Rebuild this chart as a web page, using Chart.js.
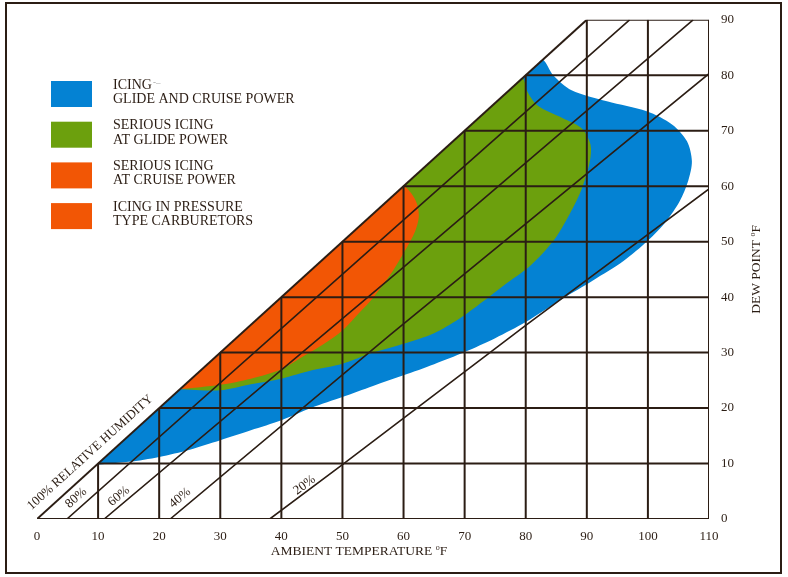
<!DOCTYPE html>
<html>
<head>
<meta charset="utf-8">
<script src="https://cdn.jsdelivr.net/npm/chart.js@4.4.1/dist/chart.umd.min.js"></script>
<style>
  html, body { margin: 0; padding: 0; background: #fff; }
  #wrap { width: 788px; height: 577px; }
</style>
</head>
<body>
<div id="wrap"><canvas id="chart" width="788" height="577"></canvas></div>
<script>
const ink = '#2b1d14';
const serif = "'Liberation Serif', 'Times New Roman', serif";

// axes
const tempTicks = [0, 10, 20, 30, 40, 50, 60, 70, 80, 90, 100, 110];
const dewTicks = [0, 10, 20, 30, 40, 50, 60, 70, 80, 90];

// relative humidity lines (ambient temp, dew point)
const rhNames = ['100% RELATIVE HUMIDITY', '80%', '60%', '40%', '20%'];
const rh100 = [[0, 0], [90, 90]];
const rh80 = [[4.9, 0], [60.2, 54.1], [97, 90]];
const rh60 = [[11, 0], [60.2, 45.6], [107.4, 90]];
const rh40 = [[21.8, 0], [57.8, 33.2], [110, 80.3]];
const rh20 = [[38.1, 0], [50, 9.8], [80, 34.9], [110, 59.5]];

// icing zones, outlines
const legendNames = [
  ['ICING', 'GLIDE AND CRUISE POWER'],
  ['SERIOUS ICING', 'AT GLIDE POWER'],
  ['SERIOUS ICING', 'AT CRUISE POWER'],
  ['ICING IN PRESSURE', 'TYPE CARBURETORS']
];
const zoneColors = ['#0482d3', '#6ca00d', '#f25605', '#f25605'];

const blueZone = [
  [9.8, 9.8], [15, 10.3], [20, 11.2], [25, 12.5], [30, 14.2], [35, 16], [40, 17.8],
  [45, 20.1], [50, 22], [55, 24], [60, 25.9], [65, 27.9], [70, 30.1], [75, 32.6],
  [80, 35.5], [86, 39.7], [91, 43], [96, 46.5], [100, 50.2], [103, 53.7], [105.2, 57.3],
  [106.6, 61], [107.2, 64.5], [106.4, 68.1], [104, 71.1], [99.8, 73.5], [93.3, 75.3],
  [87.5, 77.3], [84.5, 80], [82.8, 82.8],
  [81.5, 81.5], [70, 70], [60, 60], [50, 50], [40, 40], [30, 30], [20, 20], [11.2, 11.2], [9.8, 9.8]
];
const greenZone = [
  [23.4, 23.4], [30, 23.2], [35, 24.3], [40, 25.3], [45, 26.8], [50, 28], [55, 30],
  [60, 31.6], [65, 33.5], [69, 36], [73, 39.2], [76.5, 42.2], [80.7, 45.6], [84.5, 50.1],
  [87.2, 55], [89.2, 59.6], [90.5, 64.5], [90.6, 67.5], [89.2, 70.4], [86, 72.3],
  [82, 74.5], [80.3, 77], [79.5, 79.5],
  [78, 78], [70, 70], [60, 60], [50, 50], [40, 40], [30, 30], [24.8, 24.8], [23.4, 23.4]
];
const orangeZone = [
  [23.4, 23.4], [30, 24.2], [35, 25.3], [40, 27], [44, 29.6], [47, 31.6], [50, 34],
  [52, 36.3], [54.5, 39.2], [56.5, 42], [58.3, 44.8], [60.2, 48.3], [61.9, 51.9],
  [62.5, 54.5], [62.2, 56.8], [61.2, 58.8], [60, 60],
  [58.6, 58.6], [50, 50], [40, 40], [30, 30], [24.8, 24.8], [23.4, 23.4]
];

const pts = arr => arr.map(([x, y]) => ({ x, y }));

function zone(data, color, order) {
  return {
    data: pts(data), showLine: true, fill: 'shape', backgroundColor: color,
    borderWidth: 0, pointRadius: 0, tension: 0.3, order
  };
}

function rule(data, width) {
  return {
    data: pts(data), showLine: true, fill: false, borderColor: ink,
    borderWidth: width, pointRadius: 0, tension: 0, order: 1
  };
}

const xMax = tempTicks[tempTicks.length - 1];
const yMax = dewTicks[dewTicks.length - 1];

const datasets = [
  zone(blueZone, zoneColors[0], 10),
  zone(greenZone, zoneColors[1], 9),
  zone(orangeZone, zoneColors[2], 8)
];
// grid only inside the area under 100% humidity
dewTicks.forEach(d => datasets.push(rule([[d, d], [xMax, d]], 2)));
tempTicks.forEach(t => {
  if (t > 0) datasets.push(rule([[t, 0], [t, Math.min(t, yMax)]], 2));
});
const rhLines = [rh100, rh80, rh60, rh40, rh20];
rhLines.forEach((l, i) => datasets.push(rule(l, i === 0 ? 2 : 1.6)));

// label centres (data units) for the humidity lines
const rhLabelAt = [[8.7, 12.0], [6.4, 3.8], [13.4, 4.1], [23.4, 3.8], [43.8, 6.1]];

function textWithDegree(ctx, text, x, y, size) {
  // draws "text" followed by a raised small o and F, centred on x
  ctx.font = size + 'px ' + serif;
  const w1 = ctx.measureText(text).width;
  ctx.font = (size * 0.6) + 'px ' + serif;
  const w2 = ctx.measureText('o').width;
  ctx.font = size + 'px ' + serif;
  const w3 = ctx.measureText('F').width;
  let px = x - (w1 + w2 + w3) / 2;
  ctx.textAlign = 'left';
  ctx.textBaseline = 'alphabetic';
  ctx.fillText(text, px, y);
  px += w1;
  ctx.font = (size * 0.6) + 'px ' + serif;
  ctx.fillText('o', px, y - size * 0.38);
  px += w2;
  ctx.font = size + 'px ' + serif;
  ctx.fillText('F', px, y);
}

const decorations = {
  id: 'decorations',
  beforeDraw(chart) {
    const ctx = chart.ctx;
    ctx.save();
    ctx.fillStyle = '#fff';
    ctx.fillRect(0, 0, chart.width, chart.height);
    ctx.restore();
  },
  afterDraw(chart) {
    const ctx = chart.ctx;
    const sx = chart.scales.x, sy = chart.scales.y;
    ctx.save();
    ctx.fillStyle = ink;

    // legend
    legendNames.forEach((lines, i) => {
      const top = 81 + i * 40.7;
      ctx.fillStyle = zoneColors[i];
      ctx.fillRect(51, top, 41, 26);
      ctx.fillStyle = ink;
      ctx.font = '14px ' + serif;
      ctx.textAlign = 'left';
      ctx.textBaseline = 'alphabetic';
      ctx.fillText(lines[0], 113, top + 7.5);
      ctx.fillText(lines[1], 113, top + 21.8);
      if (i === 0) {
        const w = ctx.measureText(lines[0]).width;
        ctx.fillStyle = '#9a9a9a';
        ctx.font = '9px ' + serif;
        ctx.fillText('-\u2013', 113 + w + 1, top + 4);
        ctx.fillStyle = ink;
      }
    });

    // humidity line labels
    rhNames.forEach((name, i) => {
      const l = rhLines[i];
      const a = l[0], b = l[l.length - 1];
      const ang = Math.atan2(sy.getPixelForValue(b[1]) - sy.getPixelForValue(a[1]),
                             sx.getPixelForValue(b[0]) - sx.getPixelForValue(a[0]));
      const c = rhLabelAt[i];
      ctx.save();
      ctx.translate(sx.getPixelForValue(c[0]), sy.getPixelForValue(c[1]));
      ctx.rotate(ang);
      ctx.font = '13px ' + serif;
      ctx.textAlign = 'center';
      ctx.textBaseline = 'middle';
      ctx.fillText(name, 0, 0);
      ctx.restore();
    });

    // axis titles
    textWithDegree(ctx, 'AMBIENT TEMPERATURE ', sx.getPixelForValue(52.7), 555, 13.5);
    ctx.save();
    ctx.translate(760, (chart.chartArea.top + chart.chartArea.bottom) / 2);
    ctx.rotate(-Math.PI / 2);
    textWithDegree(ctx, 'DEW POINT ', 0, 0, 13.5);
    ctx.restore();

    // frame
    ctx.strokeStyle = ink;
    ctx.lineWidth = 2;
    ctx.strokeRect(6, 3, 775, 570);
    ctx.restore();
  }
};

new Chart(document.getElementById('chart'), {
  type: 'scatter',
  data: { datasets },
  plugins: [decorations],
  options: {
    responsive: false,
    animation: false,
    layout: { padding: { left: 37, top: 18, right: 19, bottom: 18 } },
    plugins: { legend: { display: false }, tooltip: { enabled: false } },
    scales: {
      x: {
        type: 'linear', min: 0, max: xMax,
        afterBuildTicks: s => { s.ticks = tempTicks.map(v => ({ value: v })); },
        afterFit: s => { s.height = 40; },
        grid: { display: false, drawTicks: false }, border: { display: false },
        ticks: { color: ink, padding: 10, font: { family: serif, size: 13 } }
      },
      y: {
        type: 'linear', position: 'right', min: 0, max: yMax,
        afterBuildTicks: s => { s.ticks = dewTicks.map(v => ({ value: v })); },
        afterFit: s => { s.width = 60; },
        grid: { display: false, drawTicks: false }, border: { display: false },
        ticks: { color: ink, padding: 12, font: { family: serif, size: 13 } }
      }
    }
  }
});
</script>
</body>
</html>
